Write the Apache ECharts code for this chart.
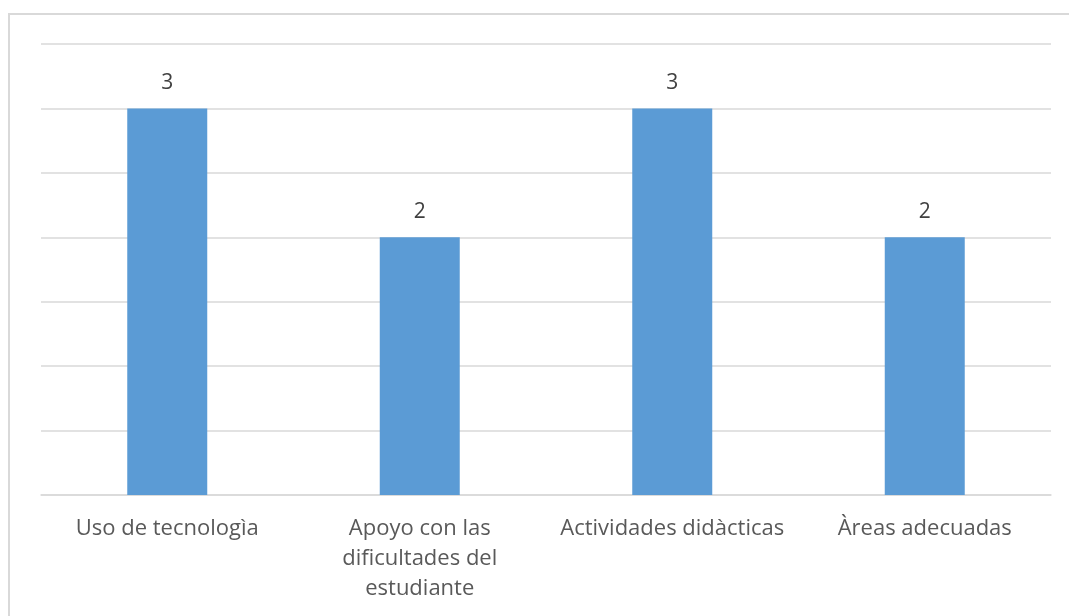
<!DOCTYPE html>
<html>
<head>
<meta charset="utf-8">
<script src="https://cdn.jsdelivr.net/npm/echarts@6/dist/echarts.min.js"></script>
<style>
  html, body { margin: 0; padding: 0; background: #fff; }
  #frame { position: absolute; left: 8px; top: 13px; width: 1070px; height: 620px; border: 2px solid #d9d9d9; box-sizing: border-box; }
  #chart { position: absolute; left: 0; top: 0; width: 1069px; height: 616px; }
</style>
</head>
<body>
<div id="frame"></div>
<div id="chart"></div>
<script>
// categorias (con saltos de linea como en el original)
const categories = ['Uso de tecnologìa', 'Apoyo con las\ndificultades del\nestudiante', 'Actividades didàcticas', 'Àreas adecuadas'];
const values = [3, 2, 3, 2];

const myChart = echarts.init(document.getElementById('chart'));

const option = {
  textStyle: { fontFamily: 'Open Sans' },
  grid: { left: 41, right: 18, top: 44, bottom: 121 },
  xAxis: {
    type: 'category',
    data: categories,
    axisLine: { lineStyle: { color: '#d9d9d9', width: 1.5 } },
    axisTick: { show: false },
    axisLabel: {
      color: '#595959',
      fontSize: 22,
      lineHeight: 30,
      margin: 19,
      interval: 0
    }
  },
  yAxis: {
    type: 'value',
    min: 0,
    max: 3.5,
    interval: 0.5,
    axisLabel: { show: false },
    axisLine: { show: false },
    axisTick: { show: false },
    splitLine: { lineStyle: { color: '#d9d9d9', width: 1.5 } }
  },
  series: [
    {
      type: 'bar',
      data: values,
      barWidth: 80,
      itemStyle: { color: '#5b9bd5' },
      label: {
        show: true,
        position: 'top',
        distance: 15,
        color: '#404040',
        fontSize: 21
      }
    }
  ]
};

myChart.setOption(option);
</script>
</body>
</html>
